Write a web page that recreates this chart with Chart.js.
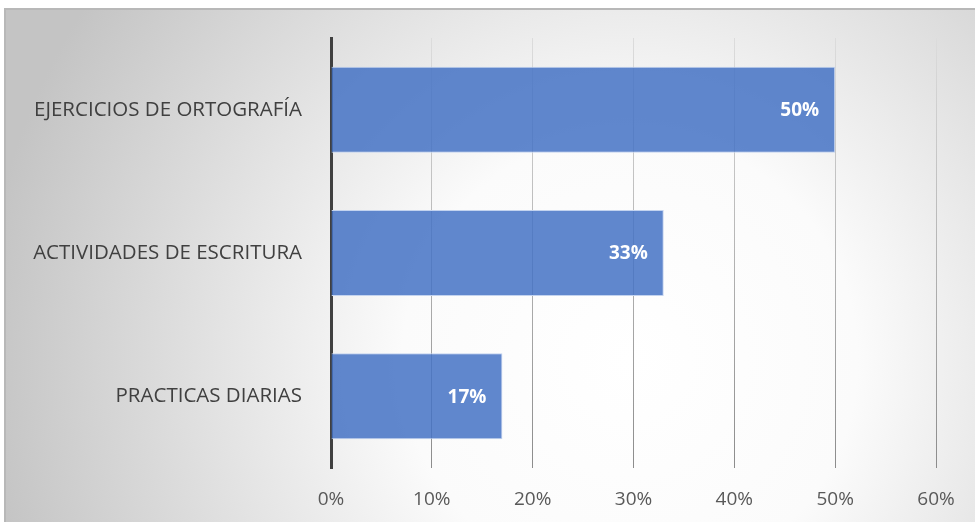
<!DOCTYPE html>
<html>
<head>
<meta charset="utf-8">
<script src="https://cdn.jsdelivr.net/npm/chart.js@4.4.1/dist/chart.umd.min.js"></script>
<style>
html,body{margin:0;padding:0;background:#fff;}
#wrap{width:975px;height:525px;position:relative;}
</style>
</head>
<body>
<div id="wrap"><canvas id="c" width="975" height="525"></canvas></div>
<script>
const categories = ["EJERCICIOS DE ORTOGRAFÍA", "ACTIVIDADES DE ESCRITURA", "PRACTICAS DIARIAS"];
const values = [50, 33, 17];
const tickValues = [0, 10, 20, 30, 40, 50, 60];

const bgPlugin = {
  id: 'bg',
  beforeDraw(chart) {
    const c = chart.ctx;
    c.save();
    c.fillStyle = '#ffffff';
    c.fillRect(0, 0, 975, 525);
    const g = c.createRadialGradient(630, 360, 0, 630, 360, 650);
    g.addColorStop(0, '#ffffff');
    g.addColorStop(0.35, '#fbfbfb');
    g.addColorStop(1, '#c4c4c4');
    c.fillStyle = g;
    c.fillRect(5, 8, 970, 514);
    c.strokeStyle = '#b8b8b8';
    c.lineWidth = 2;
    c.beginPath();
    c.moveTo(5, 522);
    c.lineTo(5, 9);
    c.lineTo(975, 9);
    c.stroke();
    c.restore();
  }
};

const labelPlugin = {
  id: 'vals',
  afterDatasetsDraw(chart) {
    const c = chart.ctx;
    const meta = chart.getDatasetMeta(0);
    c.save();
    c.fillStyle = '#ffffff';
    c.font = 'bold 19px "Open Sans", sans-serif';
    c.textAlign = 'right';
    c.textBaseline = 'middle';
    meta.data.forEach((bar, i) => {
      c.fillText(values[i] + '%', bar.x - 16, bar.y + 1);
    });
    c.restore();
  }
};

new Chart(document.getElementById('c'), {
  type: 'bar',
  data: {
    labels: categories,
    datasets: [{
      data: values,
      backgroundColor: 'rgba(68,114,196,0.85)',
      borderColor: '#c3d3ef',
      borderWidth: 1,
      categoryPercentage: 0.6,
      barPercentage: 1.0
    }]
  },
  options: {
    indexAxis: 'y',
    responsive: false,
    animation: false,
    layout: { padding: { left: 0, top: 38, right: 39, bottom: 0 } },
    plugins: { legend: { display: false }, tooltip: { enabled: false } },
    scales: {
      x: {
        min: 0, max: 60,
        afterBuildTicks(scale) { scale.ticks = tickValues.map(v => ({ value: v })); },
        afterFit(scale) { scale.height = 57; },
        border: { display: false },
        grid: {
          drawTicks: false,
          lineWidth: 1,
          color(ctx) {
            const ch = ctx.chart;
            const g = ch.ctx.createLinearGradient(0, 38, 0, 468);
            g.addColorStop(0, '#dcdcdc');
            g.addColorStop(1, '#8c8c8c');
            return g;
          }
        },
        ticks: {
          padding: 20,
          color: '#595959',
          font: { family: '"Open Sans", sans-serif', size: 19 },
          callback: v => v + '%'
        }
      },
      y: {
        afterFit(scale) { scale.width = 331; },
        border: { display: true, color: '#404040', width: 3 },
        grid: { display: false },
        ticks: {
          padding: 21,
          color: '#404040',
          font: { family: '"Open Sans", sans-serif', size: 20.5 }
        }
      }
    }
  },
  plugins: [bgPlugin, labelPlugin]
});
</script>
</body>
</html>
